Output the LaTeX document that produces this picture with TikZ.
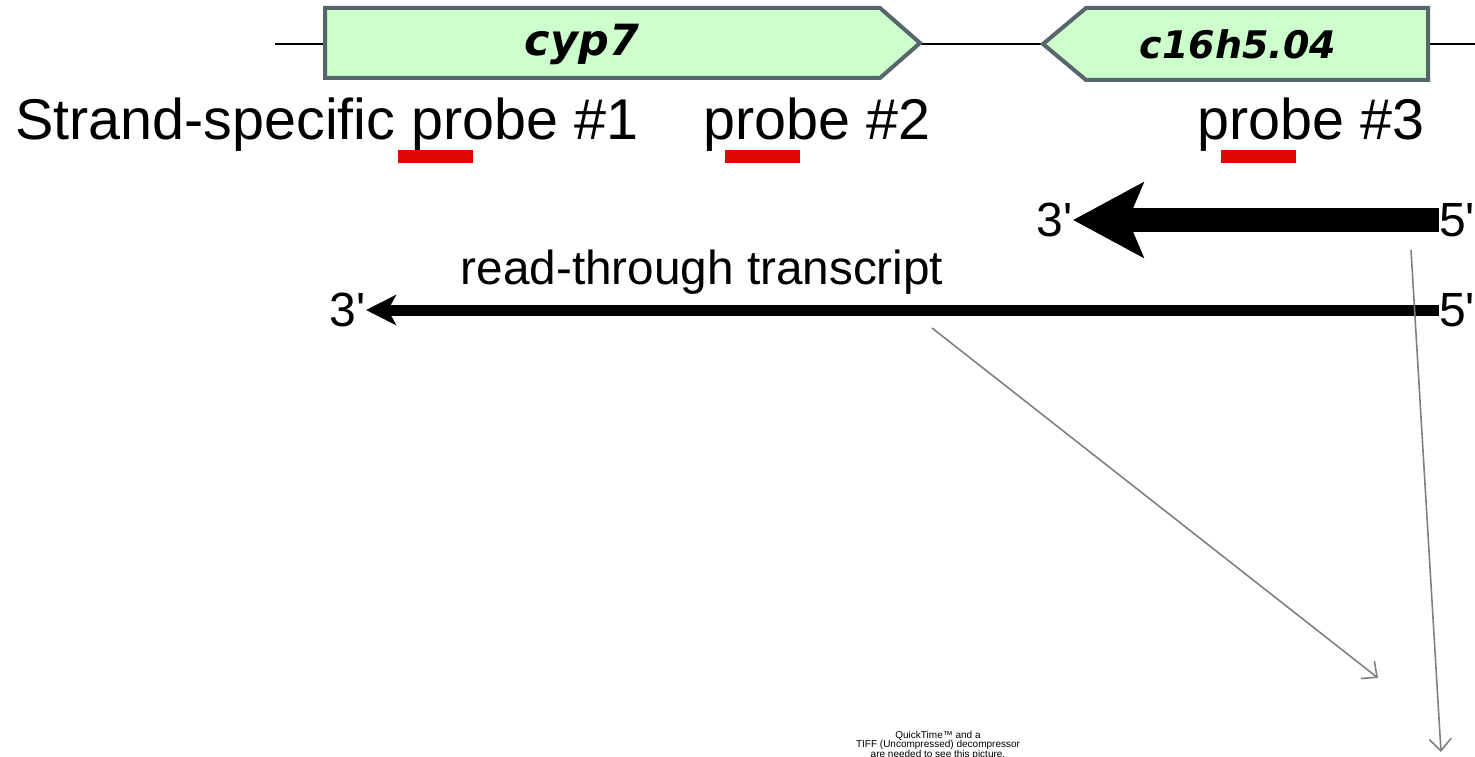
\documentclass[tikz,border=0pt]{standalone}
\usepackage{fontspec}
\newfontfamily\arial{Liberation Sans}
\newfontfamily\genefont{DejaVu Sans}
\usetikzlibrary{arrows.meta}
\definecolor{genegreen}{HTML}{CCFFCC}
\definecolor{genegray}{HTML}{56666A}
\definecolor{probered}{HTML}{DD0800}

\begin{document}
\begin{tikzpicture}[x=1pt,y=-1pt,
    lbl/.style={inner sep=0pt,font=\arial\fontsize{48}{50}\selectfont},
    probe/.style={inner sep=0pt,anchor=base west,font=\arial\fontsize{57.5}{60}\selectfont},
    gene/.style={draw=genegray,line width=4pt,fill=genegreen},
    genename/.style={inner sep=0pt,font=\genefont\bfseries\itshape\fontsize{38}{40}\selectfont},
    pointer/.style={draw=gray,line width=1.6pt,-{Straight Barb[length=12pt,width=22pt]}}]
    \useasboundingbox (0,0) rectangle (1475,757);

    % chromosome and the two genes
    \draw [line width=1.5pt] (275,44) -- (1475,44);
    \draw [gene] (325,8) -- (880,8) -- (920,43) -- (880,78) -- (325,78) -- cycle;
    \node [genename,font=\genefont\bfseries\itshape\fontsize{43}{45}\selectfont] (cyp) at (582,44) {cyp7};
    \draw [gene] (1428,8) -- (1086,8) -- (1043,44) -- (1086,80) -- (1428,80) -- cycle;
    \node [genename] (c16) at (1238,44) {c16h5.04};

    % probes
    \node [probe] (ssp) at (15,140) {Strand-specific probe \#1};
    \node [probe] (ptwo) at (703,140) {probe \#2};
    \node [probe] (pthree) at (1197,140) {probe \#3};
    \foreach \x in {398,725,1221}{%
        \fill [probered] (\x,150) rectangle ++(75,13);}

    % transcripts
    \node [lbl,anchor=west] (fiveA) at (1439,220) {5'};
    \node [lbl,anchor=east] (threeA) at (1073,220) {3'};
    \draw [line width=24pt,-{Stealth[length=70pt,width=74pt,inset=15pt]}] (fiveA.west) -- (threeA.east);

    \node [lbl,anchor=west] (fiveB) at (1439,310) {5'};
    \node [lbl,anchor=east] (threeB) at (366,310) {3'};
    \draw [line width=11pt,-{Stealth[length=30pt,width=30pt,inset=8pt]}] (fiveB.west) -- (threeB.east);
    \node [lbl,anchor=base,font=\arial\fontsize{47.7}{50}\selectfont] (rt) at (702,284) {read-through transcript};

    % pointers to the picture
    \coordinate (rtTail) at (932,328);
    \coordinate (rtHead) at (1378,678);
    \coordinate (shTail) at (1411,250);
    \coordinate (shHead) at (1441,752);
    \draw [pointer] (rtTail) -- (rtHead);
    \draw [pointer] (shTail) -- (shHead);

    \node [inner sep=0pt,anchor=north,align=center,font=\arial\fontsize{10}{9.5}\selectfont] (qt) at (938,731)
        {QuickTime™ and a\\TIFF (Uncompressed) decompressor\\are needed to see this picture.};
\end{tikzpicture}
\end{document}
